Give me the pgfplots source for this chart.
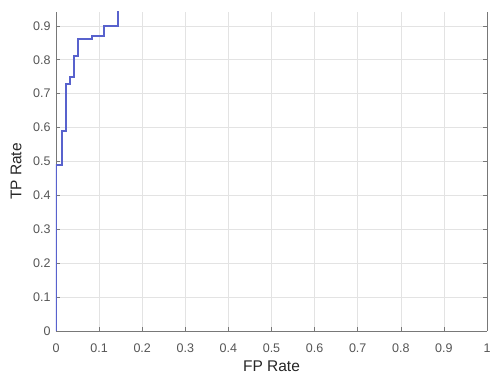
\documentclass[border=0pt]{standalone}
\usepackage{pgfplots}
\pgfplotsset{compat=1.18}
\usepackage{fontspec}
\setmainfont{Liberation Sans}
\definecolor{rocblue}{RGB}{88,98,205}
\definecolor{axg}{RGB}{120,120,120}
\definecolor{tickg}{RGB}{85,85,85}
\begin{document}
\begin{tikzpicture}
\path[use as bounding box] (0pt,0pt) rectangle (490pt,374pt);
\begin{axis}[
  at={(56pt,43pt)}, anchor=south west,
  scale only axis, width=431pt, height=319pt,
  xmin=0, xmax=1, ymin=0, ymax=0.941,
  axis x line*=bottom, axis y line*=box,
  xtick={0,0.1,...,1}, ytick={0,0.1,...,0.9},
  xticklabels={0,0.1,0.2,0.3,0.4,0.5,0.6,0.7,0.8,0.9,1},
  yticklabels={0,0.1,0.2,0.3,0.4,0.5,0.6,0.7,0.8,0.9},
  tick align=inside, major tick length=4pt,
  tick style={axg, line width=0.6pt},
  axis line style={axg, line width=0.9pt},
  grid=major, major grid style={gray!22, line width=0.6pt},
  ticklabel style={font=\fontsize{12.5}{14}\selectfont, text=tickg},
  xticklabel style={yshift=-9pt},
  yticklabel style={xshift=-2pt},
  label style={font=\fontsize{15.5}{17}\selectfont, text=black!85},
  xlabel={FP Rate}, ylabel={TP Rate},
  xlabel style={at={(axis description cs:0.5,0)}, anchor=center, yshift=-35pt},
  ylabel style={at={(axis description cs:0,0.5)}, anchor=center, yshift=40pt},
  clip=true,
]
\addplot[draw=rocblue, line width=2pt] coordinates {
(0,0) (0,0.49) (0.013,0.49) (0.013,0.59) (0.0225,0.59) (0.0225,0.73)
(0.033,0.73) (0.033,0.75) (0.042,0.75) (0.042,0.81) (0.051,0.81) (0.051,0.86)
(0.083,0.86) (0.083,0.87) (0.112,0.87) (0.112,0.90) (0.143,0.90) (0.143,1.0)
};
\end{axis}
\end{tikzpicture}
\end{document}
